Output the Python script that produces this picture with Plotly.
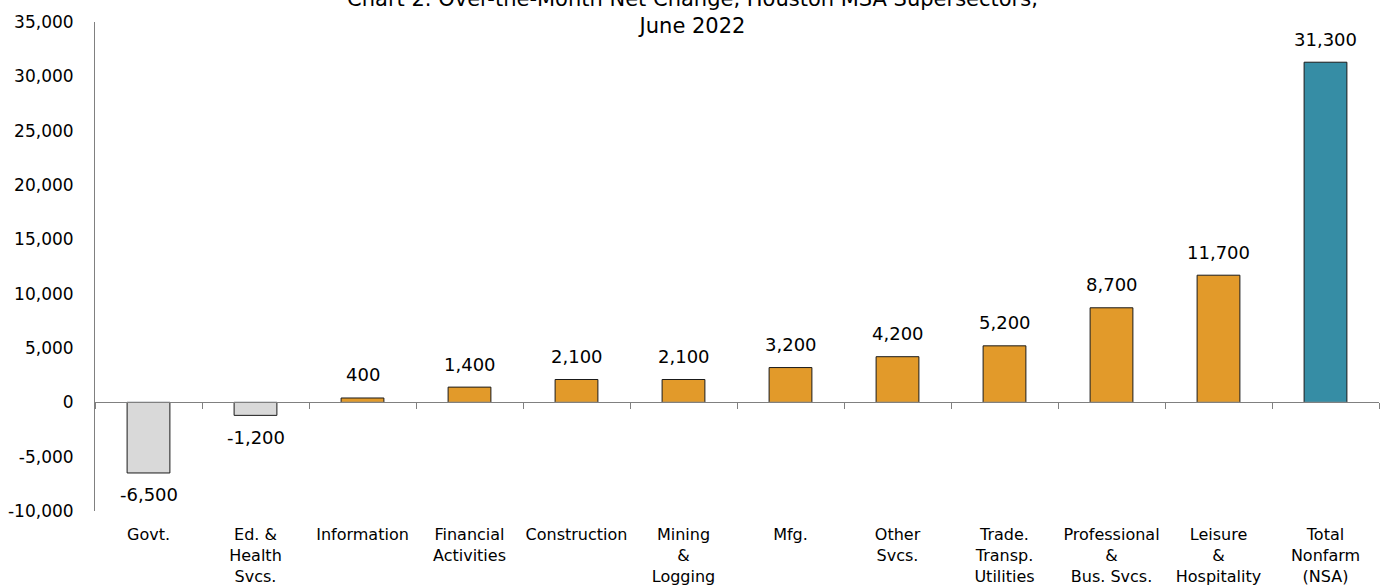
import plotly.graph_objects as go

# Over-the-month net change by supersector, Houston MSA, June 2022
categories = [
    "Govt.", "Ed. &<br>Health<br>Svcs.", "Information", "Financial<br>Activities",
    "Construction", "Mining<br>&<br>Logging", "Mfg.", "Other<br>Svcs.",
    "Trade.<br>Transp.<br>Utilities", "Professional<br>&<br>Bus. Svcs.",
    "Leisure<br>&<br>Hospitality", "Total<br>Nonfarm<br>(NSA)",
]
net_change = [-6500, -1200, 400, 1400, 2100, 2100, 3200, 4200, 5200, 8700, 11700, 31300]

y_ticks = [-10000, -5000, 0, 5000, 10000, 15000, 20000, 25000, 30000, 35000]
y_tick_labels = ["-10,000", "-5,000", "0", "5,000", "10,000", "15,000",
                 "20,000", "25,000", "30,000", "35,000"]
y_range = [-10000, 35000]

GREY = "#D9D9D9"
ORANGE = "#E29A2A"
TEAL = "#368DA5"
FONT = "DejaVu Sans"

colors = []
for i, v in enumerate(net_change):
    if i == len(net_change) - 1:
        colors.append(TEAL)
    elif v < 0:
        colors.append(GREY)
    else:
        colors.append(ORANGE)

fig = go.Figure()
fig.add_trace(go.Bar(
    x=categories,
    y=net_change,
    marker=dict(color=colors, line=dict(color="#1a1a1a", width=1)),
    hoverinfo="x+y",
))

# value labels, offset above positive bars and below negative ones
for c, v in zip(categories, net_change):
    fig.add_annotation(
        x=c, y=v, text=f"{v:,}", showarrow=False,
        yshift=23 if v >= 0 else -22,
        font=dict(family=FONT, size=18, color="#000000"),
    )

# zero baseline carrying the category tick marks
zero_pos = (0 - y_range[0]) / (y_range[1] - y_range[0])

fig.update_layout(
    width=1385, height=588,
    margin=dict(l=95, r=6, t=22, b=77),
    paper_bgcolor="white", plot_bgcolor="white",
    bargap=0.6,
    showlegend=False,
    font=dict(family=FONT, size=16, color="#000000"),
    title=dict(
        text="Chart 2. Over-the-Month Net Change, Houston MSA Supersectors,<br>June 2022",
        x=0.5, xanchor="center",
        yref="container", y=0.99, yanchor="middle",
        font=dict(family=FONT, size=21, color="#000000"),
    ),
    xaxis=dict(
        type="category", showline=False, ticks="", showgrid=False,
        zeroline=False, ticklabelstandoff=12, automargin=False,
        tickfont=dict(family=FONT, size=16),
    ),
    xaxis2=dict(
        type="category", overlaying="x", matches="x", anchor="free",
        position=zero_pos, side="bottom", showline=True, linecolor="#808080",
        linewidth=1, ticks="outside", ticklen=6, tickcolor="#808080",
        tickson="boundaries", showticklabels=False, showgrid=False,
        automargin=False,
    ),
    yaxis=dict(
        range=y_range, tickvals=y_ticks, ticktext=y_tick_labels,
        showline=True, linecolor="#808080", linewidth=1,
        ticks="", showgrid=False, zeroline=False, automargin=False,
        ticklabelstandoff=17, tickfont=dict(family=FONT, size=17),
    ),
)

# invisible trace to activate the baseline axis
fig.add_trace(go.Bar(x=categories, y=[0] * len(categories), xaxis="x2",
                     marker=dict(color="rgba(0,0,0,0)"), hoverinfo="skip"))

fig.write_html("out.html")
